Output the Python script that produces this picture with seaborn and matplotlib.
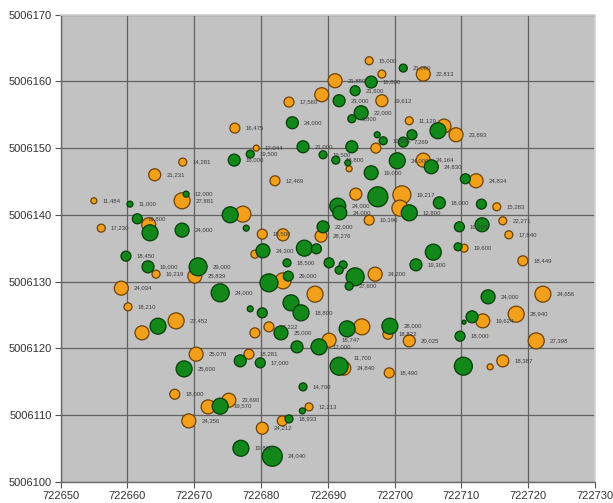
import matplotlib
matplotlib.use("Agg")
import matplotlib.pyplot as plt
import pandas as pd
import seaborn as sns
from matplotlib.ticker import FixedLocator, FuncFormatter

# ---------------- data ----------------
x_ticks = [722650, 722660, 722670, 722680, 722690, 722700, 722710, 722720, 722730]
y_ticks = [5006100, 5006110, 5006120, 5006130, 5006140, 5006150, 5006160, 5006170]

orange_x = [722696.2, 722698.1, 722704.3, 722691.1, 722689.1, 722684.2, 722698.1, 722676.1, 722702.2, 722707.4,
            722709.2, 722697.2, 722679.3, 722668.3, 722693.2, 722704.3, 722712.2, 722664.1, 722682.1, 722694.2,
            722701.1, 722700.8, 722668.2, 722655.0, 722715.3, 722677.3, 722696.2, 722716.2, 722663.2, 722656.1,
            722680.2, 722683.3, 722689.0, 722717.1, 722710.4, 722679.1, 722719.2, 722697.1, 722664.3, 722670.1,
            722683.3, 722659.1, 722722.2, 722688.1, 722660.1, 722718.2, 722713.2, 722667.3, 722662.2, 722681.2,
            722679.1, 722695.1, 722699.0, 722690.2, 722702.2, 722721.2, 722670.3, 722678.2, 722692.4, 722699.2,
            722716.2, 722714.3, 722667.1, 722672.1, 722675.2, 722669.2, 722687.2, 722683.2, 722680.2]
orange_y = [5006163.1, 5006161.1, 5006161.1, 5006160.1, 5006158.0, 5006156.9, 5006157.1, 5006153.0, 5006154.1, 5006153.3,
            5006152.0, 5006150.0, 5006150.0, 5006147.9, 5006146.9, 5006148.2, 5006145.1, 5006146.0, 5006145.1, 5006143.1,
            5006143.0, 5006141.0, 5006142.1, 5006142.1, 5006141.2, 5006140.1, 5006139.2, 5006139.1, 5006138.5, 5006138.0,
            5006137.1, 5006137.0, 5006136.8, 5006137.0, 5006135.0, 5006134.1, 5006133.1, 5006131.1, 5006131.1, 5006130.8,
            5006130.1, 5006129.0, 5006128.1, 5006128.1, 5006126.2, 5006125.1, 5006124.1, 5006124.1, 5006122.3, 5006123.2,
            5006122.3, 5006123.2, 5006122.1, 5006121.2, 5006121.1, 5006121.1, 5006119.1, 5006119.1, 5006117.0, 5006116.3,
            5006118.1, 5006117.2, 5006113.1, 5006111.2, 5006112.2, 5006109.1, 5006111.2, 5006109.1, 5006108.0]
orange_value = [12, 12, 21, 21, 21, 15, 18, 15, 12, 21, 21, 15, 9, 12, 9, 21, 21, 18, 15, 18,
                27, 24, 24, 9, 12, 24, 15, 12, 21, 12, 15, 18, 18, 12, 12, 12, 15, 21, 12, 21,
                24, 21, 24, 24, 12, 24, 21, 24, 21, 15, 15, 24, 15, 21, 18, 24, 21, 15, 21, 15,
                18, 9, 15, 21, 21, 21, 12, 15, 18]
orange_labels = ["15,000", "", "22,813", "21,850", "", "17,560", "19,612", "16,475", "11,129", "",
                 "23,893", "", "17,044", "14,281", "", "24,164", "24,834", "21,231", "12,469", "",
                 "19,217", "", "27,881", "11,484", "15,283", "", "10,190", "22,271", "", "17,230",
                 "18,500", "", "28,276", "17,840", "19,600", "", "18,449", "24,200", "16,219", "25,839",
                 "", "24,034", "24,656", "", "18,210", "28,940", "19,624", "27,452", "", "17,222",
                 "", "", "18,822", "18,747", "20,025", "27,398", "25,076", "18,281", "24,840", "18,490",
                 "18,387", "", "18,000", "", "23,690", "24,356", "12,213", "", "24,212"]

green_x = [722701.3, 722696.5, 722694.1, 722691.7, 722695.0, 722693.6, 722684.7, 722697.4, 722698.3, 722702.6,
           722701.3, 722706.5, 722686.3, 722693.6, 722689.3, 722691.2, 722693.0, 722700.4, 722705.5, 722696.5,
           722678.4, 722676.0, 722710.6, 722697.5, 722691.5, 722691.8, 722702.2, 722706.7, 722713.0, 722668.8,
           722660.4, 722661.5, 722675.4, 722663.4, 722668.2, 722689.3, 722709.7, 722713.1, 722677.8, 722680.3,
           722686.5, 722688.3, 722705.8, 722709.5, 722703.2, 722683.9, 722690.2, 722692.3, 722691.7, 722694.1,
           722693.2, 722681.2, 722684.1, 722659.8, 722663.1, 722670.6, 722673.9, 722684.5, 722686.0, 722678.4,
           722680.2, 722683.0, 722692.9, 722699.3, 722714.0, 722711.6, 722710.4, 722709.8, 722664.6, 722685.4,
           722688.7, 722676.9, 722679.9, 722691.7, 722710.3, 722668.5, 722686.3, 722673.9, 722686.2, 722684.2,
           722677.0, 722681.7]
green_y = [5006162.0, 5006159.9, 5006158.6, 5006157.1, 5006155.3, 5006154.4, 5006153.8, 5006152.0, 5006151.1, 5006152.0,
           5006150.9, 5006152.6, 5006150.2, 5006150.2, 5006149.0, 5006148.2, 5006147.8, 5006148.1, 5006147.2, 5006146.3,
           5006149.1, 5006148.2, 5006145.4, 5006142.7, 5006141.3, 5006140.3, 5006140.3, 5006141.8, 5006141.6, 5006143.1,
           5006141.6, 5006139.4, 5006140.0, 5006137.3, 5006137.7, 5006138.2, 5006138.2, 5006138.5, 5006138.0, 5006134.6,
           5006135.0, 5006134.9, 5006134.4, 5006135.2, 5006132.5, 5006132.8, 5006132.8, 5006132.5, 5006131.7, 5006130.7,
           5006129.3, 5006129.8, 5006130.8, 5006133.8, 5006132.2, 5006132.2, 5006128.3, 5006126.8, 5006125.3, 5006125.9,
           5006125.3, 5006122.3, 5006122.9, 5006123.3, 5006127.7, 5006124.7, 5006123.9, 5006121.8, 5006123.3, 5006120.2,
           5006120.2, 5006118.1, 5006117.8, 5006117.3, 5006117.3, 5006116.9, 5006114.2, 5006111.3, 5006110.6, 5006109.4,
           5006105.0, 5006103.8]
green_value = [12, 18, 15, 18, 21, 12, 18, 9, 12, 15, 15, 24, 18, 18, 12, 12, 9, 24, 21, 21,
               12, 18, 15, 30, 24, 21, 24, 18, 15, 9, 9, 15, 24, 24, 21, 18, 15, 21, 9, 21,
               24, 15, 24, 12, 18, 12, 15, 12, 12, 27, 12, 27, 15, 15, 18, 27, 27, 24, 24, 9,
               15, 21, 24, 24, 21, 18, 6, 15, 24, 18, 24, 18, 15, 27, 27, 24, 12, 24, 9, 12,
               24, 30]
green_labels = ["21,000", "16,800", "21,600", "23,000", "22,000", "8,800", "24,000", "", "10,830", "",
                "7,269", "", "21,000", "", "19,500", "18,800", "", "24,000", "24,830", "19,000",
                "19,500", "16,000", "", "", "24,000", "24,000", "12,800", "18,000", "", "12,000",
                "11,000", "19,800", "", "", "24,000", "22,000", "16,000", "", "", "24,300",
                "", "", "", "", "19,300", "18,500", "", "", "", "",
                "27,600", "", "29,000", "18,450", "19,000", "29,000", "24,000", "", "18,800", "",
                "", "25,000", "", "28,000", "24,000", "", "", "18,000", "", "",
                "17,000", "", "17,000", "11,700", "", "25,600", "14,700", "19,570", "", "18,933",
                "19,800", "24,040"]

# ---------------- style ----------------
sns.set_theme(style="white")
plt.rcParams['font.family'] = ['Liberation Sans', 'DejaVu Sans']

fig = plt.figure(figsize=(6.13, 5.03), dpi=100)
ax = fig.add_axes([60.5 / 613, 1 - 481.6 / 503, (595 - 60.5) / 613, (481.6 - 14.7) / 503])
ax.set_facecolor('#c2c2c2')


def marker_area(v):
    return (0.48 * v) ** 2


# vertical nudges (points) for a few crowded labels
label_nudge = {('green', 73): 6}

series = [
    ('orange', orange_x, orange_y, orange_value, orange_labels, '#f2a01c', '#6e4204'),
    ('green', green_x, green_y, green_value, green_labels, '#12881a', '#053d07'),
]

for name, xs, ys, vals, labels, fill, edge in series:
    df = pd.DataFrame({'x': xs, 'y': ys, 'value': vals})
    sns.scatterplot(data=df, x='x', y='y', size='value',
                    sizes={v: marker_area(v) for v in sorted(set(vals))},
                    color=fill, edgecolor=edge, linewidth=0.9, alpha=1,
                    legend=False, ax=ax, zorder=3)
    for i, (xv, yv, v, t) in enumerate(zip(xs, ys, vals, labels)):
        if t:
            dy = label_nudge.get((name, i), 0)
            ax.annotate(t, (xv, yv), xytext=(0.24 * v + 4, dy), textcoords='offset points',
                        fontsize=4.3, color='#3c3c3c', ha='left', va='center', zorder=4)

ax.set_xlim(x_ticks[0], x_ticks[-1])
ax.set_ylim(y_ticks[0], y_ticks[-1])
ax.xaxis.set_major_locator(FixedLocator(x_ticks))
ax.yaxis.set_major_locator(FixedLocator(y_ticks))
fmt = FuncFormatter(lambda v, p: f"{v:.0f}")
ax.xaxis.set_major_formatter(fmt)
ax.yaxis.set_major_formatter(fmt)
ax.set_xlabel('')
ax.set_ylabel('')

ax.grid(True, color='#626262', linewidth=0.9)
ax.set_axisbelow(True)
for side in ['left', 'bottom']:
    ax.spines[side].set_color('#6a6a6a')
    ax.spines[side].set_linewidth(1.0)
ax.spines['top'].set_color('#d4d4d4')
ax.spines['right'].set_color('#d4d4d4')
ax.tick_params(axis='both', which='major', direction='out', length=4, width=0.8,
               color='#555555', labelsize=8, labelcolor='#333333', bottom=True, left=True)
ax.tick_params(axis='x', pad=3)
ax.tick_params(axis='y', pad=2)

fig.savefig('out.png', dpi=100)
